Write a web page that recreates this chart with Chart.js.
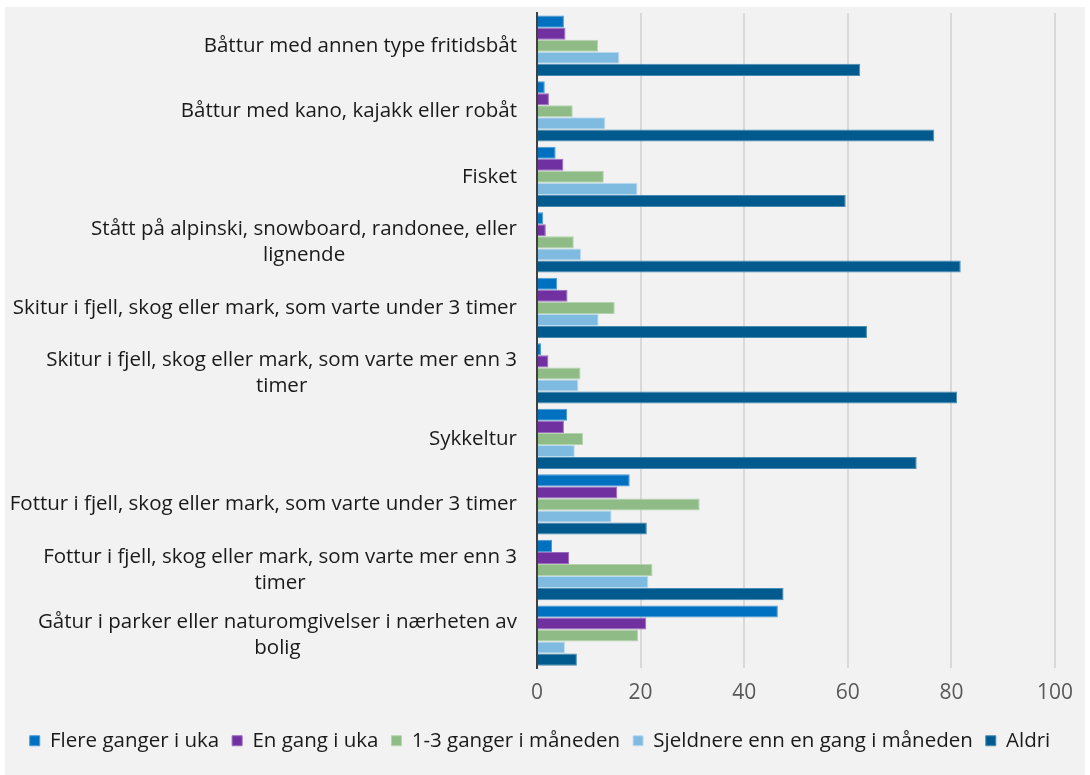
<!DOCTYPE html>
<html>
<head>
<meta charset="utf-8">
<script src="https://cdn.jsdelivr.net/npm/chart.js@4/dist/chart.umd.min.js"></script>
<style>
  html, body { margin: 0; padding: 0; background: #ffffff; }
  #wrap { position: absolute; left: 5px; top: 7px; width: 1080px; height: 768px; background: #f2f2f2; }
</style>
</head>
<body>
<div id="wrap"><canvas id="chart"></canvas></div>
<script>
// Categories (top to bottom), with the line breaks used in the picture.
const categories = [
  ['Båttur med annen type fritidsbåt'],
  ['Båttur med kano, kajakk eller robåt'],
  ['Fisket'],
  ['Stått på alpinski, snowboard, randonee, eller', 'lignende'],
  ['Skitur i fjell, skog eller mark, som varte under 3 timer'],
  ['Skitur i fjell, skog eller mark, som varte mer enn 3', 'timer'],
  ['Sykkeltur'],
  ['Fottur i fjell, skog eller mark, som varte under 3 timer'],
  ['Fottur i fjell, skog eller mark, som varte mer enn 3', 'timer'],
  ['Gåtur i parker eller naturomgivelser i nærheten av', 'bolig'],
];

const seriesNames = ['Flere ganger i uka', 'En gang i uka', '1-3 ganger i måneden', 'Sjeldnere enn en gang i måneden', 'Aldri'];

// Percent values per series, same order as categories.
const flereGanger = [5.2, 1.5, 3.6, 1.2, 3.9, 0.8, 5.8, 17.9, 2.9, 46.5];
const enGang      = [5.5, 2.3, 5.1, 1.7, 5.9, 2.2, 5.2, 15.5, 6.2, 21.1];
const enTilTre    = [11.8, 6.9, 12.9, 7.1, 15.0, 8.4, 8.9, 31.4, 22.3, 19.5];
const sjeldnere   = [15.9, 13.2, 19.4, 8.5, 11.9, 8.0, 7.3, 14.4, 21.5, 5.4];
const aldri       = [62.4, 76.7, 59.6, 81.8, 63.7, 81.1, 73.3, 21.2, 47.6, 7.7];

const xTicks = [0, 20, 40, 60, 80, 100];

const FONT = '"Open Sans", Lato, sans-serif';
const colors = ['#0070c0', '#7030a0', '#8fbc86', '#7fbae0', '#005a8e'];
const edges  = ['#4a9ad4', '#9a6bc0', '#b5d4ae', '#bcdcf0', '#4b8bb2'];

// Category labels: right-aligned block, extra lines centred under the first.
const catLabels = {
  id: 'catLabels',
  afterDraw(chart) {
    const ys = chart.scales.y;
    const ctx = chart.ctx;
    ctx.save();
    ctx.font = '20.5px ' + FONT;
    ctx.fillStyle = '#1a1a1a';
    ctx.textAlign = 'center';
    ctx.textBaseline = 'middle';
    const lh = 26;
    categories.forEach((lines, i) => {
      const yc = ys.getPixelForValue(i);
      const maxW = Math.max(...lines.map(l => ctx.measureText(l).width));
      const cx = ys.right - 20 - maxW / 2;
      const y0 = yc - (lines.length - 1) * lh / 2;
      lines.forEach((l, k) => ctx.fillText(l, cx, y0 + k * lh));
    });
    ctx.restore();
  },
};

const datasets = [flereGanger, enGang, enTilTre, sjeldnere, aldri].map((d, i) => ({
  label: seriesNames[i],
  data: d,
  backgroundColor: colors[i],
  borderColor: edges[i],
  borderWidth: 1,
  categoryPercentage: 0.92,
  barPercentage: 1.0,
}));

new Chart(document.getElementById('chart'), {
  type: 'bar',
  data: { labels: categories.map(c => c.join(' ')), datasets },
  plugins: [catLabels],
  options: {
    indexAxis: 'y',
    responsive: true,
    maintainAspectRatio: false,
    animation: false,
    layout: { padding: { top: 6, right: 10, bottom: 14, left: 0 } },
    plugins: {
      tooltip: { enabled: false },
      legend: {
        position: 'bottom',
        labels: {
          font: { family: FONT, size: 20.5 },
          color: '#1a1a1a',
          boxWidth: 10,
          boxHeight: 10,
          padding: 13,
        },
      },
    },
    scales: {
      x: {
        min: 0, max: 100,
        afterBuildTicks: (s) => { s.ticks = xTicks.map(v => ({ value: v })); },
        grid: { color: (c) => c.tick && c.tick.value === 0 ? 'rgba(0,0,0,0)' : '#d9d9d9', lineWidth: 2, drawTicks: false },
        border: { display: false },
        ticks: { font: { family: FONT, size: 21 }, color: '#595959', padding: 12 },
      },
      y: {
        grid: { display: false },
        border: { display: true, color: '#404040', width: 2 },
        ticks: { display: false },
        afterFit: (s) => { s.width = 532; },
      },
    },
  },
});
</script>
</body>
</html>
